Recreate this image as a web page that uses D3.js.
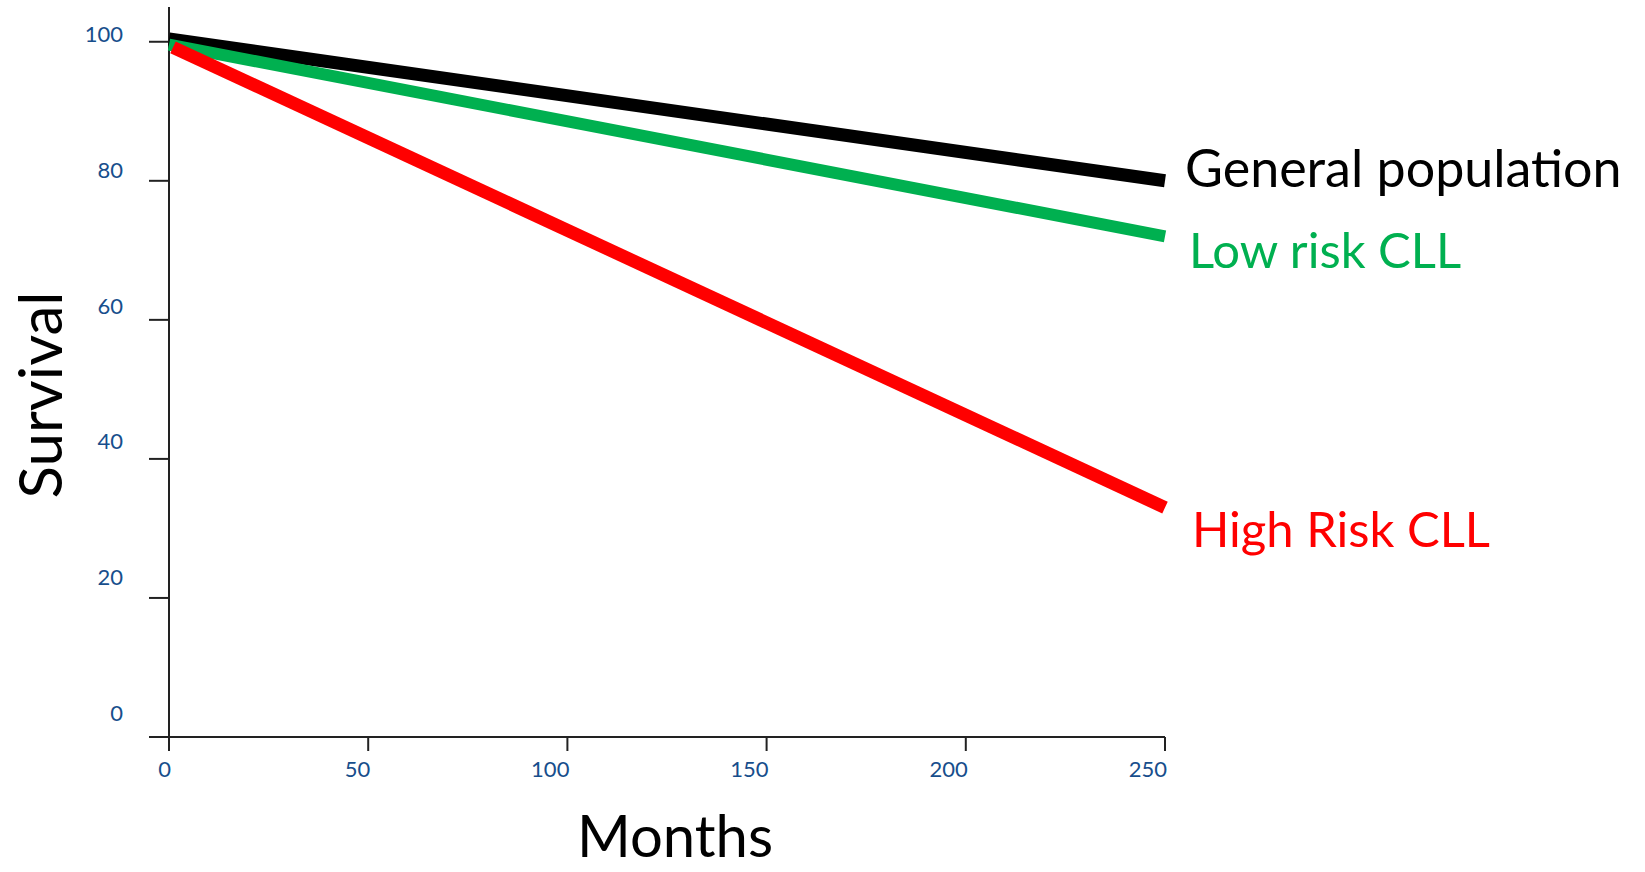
<!DOCTYPE html>
<html>
<head>
<meta charset="utf-8">
<script src="https://cdn.jsdelivr.net/npm/d3@7"></script>
<style>
  body { margin: 0; background: #fff; }
  svg { display: block; font-family: Lato, "Open Sans", sans-serif; }
</style>
</head>
<body>
<div id="chart"></div>
<script>
// data
var months = [0, 250];
var seriesNames = ["General population", "Low risk CLL", "High Risk CLL"];
var generalPop = [100.4, 80];
var lowRisk = [99.6, 72];
var highRisk = [99.2, 33];
var highMonths = [1, 250];
var xTicks = [0, 50, 100, 150, 200, 250];
var yTicks = [0, 20, 40, 60, 80, 100];

var svgWidth = 1645;
var svgHeight = 872;

var margin = { top: 7, left: 169, right: 480, bottom: 135 };
var width = svgWidth - margin.left - margin.right;
var height = svgHeight - margin.top - margin.bottom;

var svg = d3.select("#chart")
  .append("svg")
  .attr("width", svgWidth)
  .attr("height", svgHeight);

var chartGroup = svg.append("g")
  .attr("transform", `translate(${margin.left}, ${margin.top})`);

var xScale = d3.scaleLinear().domain([0, 250]).range([0, 996]);
var yScale = d3.scaleLinear().domain([0, 105]).range([height, 0]);
// tick labels in the original sit a little above their ticks
var yLabelScale = d3.scaleLinear().domain([0, 100])
  .range([yScale(0) - 24, yScale(100) - 7]);

var axisColor = "#222";
var labelColor = "#174e8c";

// y axis line + ticks
chartGroup.append("line")
  .attr("x1", 0).attr("x2", 0)
  .attr("y1", 0).attr("y2", yScale(0))
  .attr("stroke", axisColor).attr("stroke-width", 2);

chartGroup.selectAll(".ytick")
  .data(yTicks)
  .enter()
  .append("line")
  .attr("x1", -20).attr("x2", 0)
  .attr("y1", d => yScale(d)).attr("y2", d => yScale(d))
  .attr("stroke", axisColor).attr("stroke-width", 2);

chartGroup.selectAll(".ylab")
  .data(yTicks)
  .enter()
  .append("text")
  .attr("x", -46)
  .attr("y", d => yLabelScale(d))
  .attr("dy", "0.35em")
  .attr("text-anchor", "end")
  .style("font-size", "22px")
  .style("fill", labelColor)
  .text(d => d);

// x axis line + ticks
chartGroup.append("line")
  .attr("x1", -20).attr("x2", xScale(250))
  .attr("y1", yScale(0)).attr("y2", yScale(0))
  .attr("stroke", axisColor).attr("stroke-width", 2);

chartGroup.selectAll(".xtick")
  .data(xTicks)
  .enter()
  .append("line")
  .attr("x1", d => xScale(d)).attr("x2", d => xScale(d))
  .attr("y1", yScale(0)).attr("y2", yScale(0) + 14)
  .attr("stroke", axisColor).attr("stroke-width", 2);

chartGroup.selectAll(".xlab")
  .data(xTicks)
  .enter()
  .append("text")
  .attr("x", d => xScale(d) + 2)
  .attr("y", yScale(0) + 40)
  .attr("text-anchor", "end")
  .style("font-size", "22px")
  .style("fill", labelColor)
  .text(d => d);

// lines
var lineGen = d3.line()
  .x(d => xScale(d[0]))
  .y(d => yScale(d[1]));

var series = [
  { name: seriesNames[0], x: months, y: generalPop, color: "#000000", w: 13 },
  { name: seriesNames[1], x: months, y: lowRisk, color: "#00b050", w: 12 },
  { name: seriesNames[2], x: highMonths, y: highRisk, color: "#ff0000", w: 13 }
];

series.forEach(s => {
  var pts = s.x.map((m, i) => [m, s.y[i]]);
  chartGroup.append("path")
    .datum(pts)
    .attr("d", lineGen)
    .attr("fill", "none")
    .attr("stroke", s.color)
    .attr("stroke-width", s.w)
    .attr("stroke-linecap", "butt");
});

// series labels
var labelPos = [
  { dx: 20, y: 180, size: 52 },
  { dx: 24, y: 261, size: 49 },
  { dx: 27, y: 540, size: 49 }
];
series.forEach((s, i) => {
  chartGroup.append("text")
    .attr("x", xScale(250) + labelPos[i].dx)
    .attr("y", labelPos[i].y)
    .style("font-size", labelPos[i].size + "px")
    .style("fill", s.color)
    .text(s.name);
});

// axis titles
svg.append("text")
  .attr("x", 675)
  .attr("y", 857)
  .attr("text-anchor", "middle")
  .style("font-size", "58px")
  .style("fill", "#000")
  .text("Months");

svg.append("text")
  .attr("transform", "translate(62, 395) rotate(-90)")
  .attr("text-anchor", "middle")
  .style("font-size", "60px")
  .style("fill", "#000")
  .text("Survival");
</script>
</body>
</html>
